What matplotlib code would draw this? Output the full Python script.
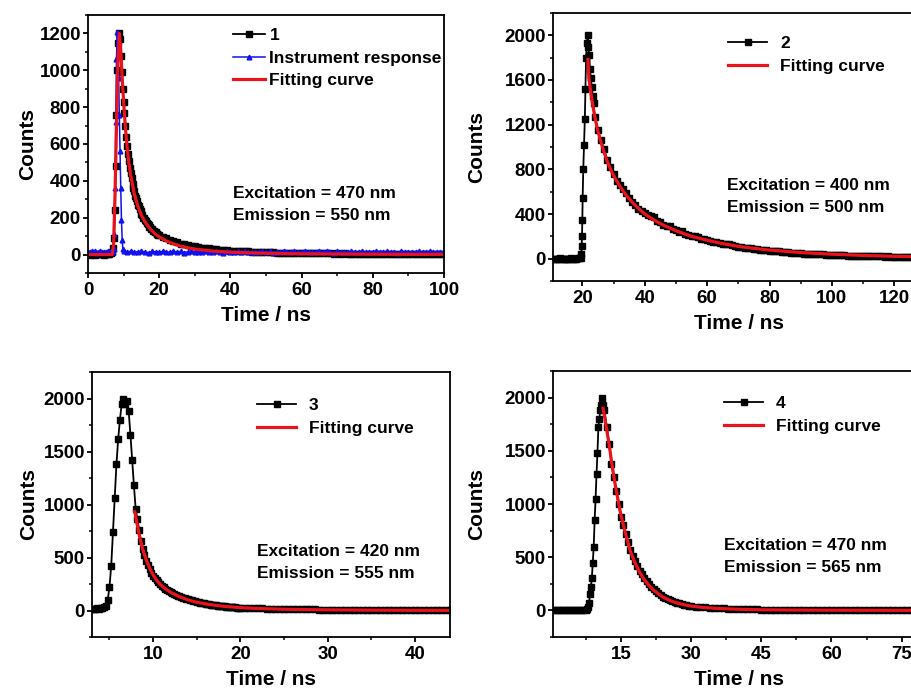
import numpy as np
import matplotlib
matplotlib.use("Agg")
import matplotlib.pyplot as plt
from matplotlib.ticker import MultipleLocator

# === 字體 / 樣式 ===
plt.rcParams['font.family'] = ['Liberation Sans', 'DejaVu Sans']
plt.rcParams['font.weight'] = 'bold'
plt.rcParams['axes.labelweight'] = 'bold'
plt.rcParams['axes.linewidth'] = 1.3

W, H = 911, 693

# === 1: decay + instrument response (Excitation 470 / Emission 550) ===
t1 = np.concatenate([np.arange(0, 6.6, 0.5), np.arange(6.75, 20.01, 0.25), np.arange(21, 101, 1)])
c1 = [2, 0, 3, 1, 0, 2, 4, 1, 3, 0, 2, 5, 3, 8,
      15, 35, 90, 240, 480, 760, 1000, 1150, 1205,
      1170, 1080, 990, 900, 830, 770, 700, 640, 590, 545, 510, 470, 440, 415, 385, 360,
      345, 320, 305, 290, 270, 262, 245, 238, 220, 215, 200, 198, 185, 180, 170, 168,
      158, 152, 148, 140, 138, 130, 128, 120, 122, 112, 110, 105, 104,
      96, 88, 79, 72, 66, 60, 55, 50, 47, 44,
      40, 38, 35, 33, 30, 29, 27, 25, 24, 22,
      21, 20, 18, 18, 17, 16, 15, 15, 14, 13,
      12, 12, 11, 11, 10, 10, 9, 10, 9, 8,
      8, 7, 8, 7, 6, 7, 6, 6, 5, 6,
      5, 6, 5, 4, 5, 5, 4, 5, 4, 4,
      4, 5, 3, 4, 4, 3, 4, 3, 3, 4,
      3, 3, 2, 3, 3, 2, 3, 2, 3, 2]
irf_t = np.concatenate([np.arange(0, 7.01, 0.5), np.arange(7.2, 9.81, 0.2), np.arange(10, 101, 1)])
irf_c = [16, 12, 18, 14, 17, 11, 15, 19, 13, 16, 14, 18, 12, 17, 15,
         30, 110, 360, 720, 1060, 1210, 1150, 960, 760, 560, 360, 190, 80, 30,
         22, 15, 18, 12, 16, 19, 14, 11, 17, 15,
         13, 18, 16, 12, 19, 14, 17, 11, 15, 18,
         14, 16, 12, 19, 15, 13, 17, 16, 11, 18,
         15, 12, 17, 14, 19, 13, 16, 15, 12, 18,
         14, 17, 11, 16, 15, 19, 13, 14, 17, 12,
         16, 18, 13, 15, 12, 17, 14, 19, 15, 11,
         17, 14, 16, 12, 18, 15, 13, 17, 14, 16,
         12, 19, 15, 14, 17, 13, 16, 11, 18, 15,
         14, 16, 13, 17, 12, 15, 18, 14, 16, 13, 15]
fit1_t = [0, 6.8, 7.2, 7.6, 8.0, 8.4, 8.8, 9.2, 9.6, 10, 10.5, 11, 11.5, 12, 13, 14, 15, 16, 17, 18,
          19, 20, 22, 24, 26, 28, 30, 35, 40, 45, 50, 60, 70, 80, 90, 100]
fit1_c = [0, 0, 60, 330, 700, 1050, 1200, 1110, 960, 830, 690, 580, 495, 430, 330, 262, 214, 178, 150, 128,
          110, 96, 74, 58, 46, 37, 30, 19, 13, 10, 7, 4, 3, 2, 1, 1]

# === 2 (Excitation 400 / Emission 500) ===
t2 = np.concatenate([np.arange(11, 19.01, 0.5),
                     [19.5, 19.7, 19.8, 19.9, 20.0, 20.1, 20.3, 20.55, 20.8, 21.0, 21.2, 21.45, 21.7,
                      21.95, 22.2, 22.45, 22.7, 23.0, 23.3, 23.6],
                     np.arange(24, 130.01, 1)])
c2 = [0, 1, 0, 0, 2, 0, 1, 0, 0, 1, 0, 2, 0, 1, 0, 3, 4,
      10, 40, 117, 207, 342, 540, 800, 1020, 1250, 1520, 1800, 1930, 2000,
      1900, 1820, 1700, 1620, 1540, 1460, 1390,
      1270, 1150, 1060, 980, 880, 820, 760, 700, 660, 620,
      590, 540, 505, 480, 445, 425, 410, 395, 380, 370,
      340, 325, 300, 295, 290, 270, 255, 240, 245, 225,
      215, 205, 200, 190, 175, 180, 165, 160, 150, 148,
      140, 135, 128, 130, 118, 112, 108, 105, 100, 95,
      92, 88, 86, 80, 82, 75, 72, 70, 66, 65,
      60, 58, 57, 52, 54, 50, 48, 46, 45, 42,
      44, 40, 38, 39, 36, 35, 34, 33, 31, 30,
      31, 28, 27, 28, 25, 26, 24, 23, 24, 22,
      21, 22, 20, 19, 20, 18, 17, 18, 16, 17,
      15, 16, 14, 15, 14, 13, 13]
fit2_t = [21.8, 22.1, 22.5, 23, 23.5, 24, 25, 26, 27, 28, 29, 30, 32, 34, 36, 38, 40, 43, 46, 50,
          55, 60, 65, 70, 75, 80, 90, 100, 110, 120, 130]
fit2_c = [1785, 1620, 1530, 1440, 1350, 1270, 1140, 1040, 950, 870, 805, 745, 650, 570, 505, 450, 400, 345, 300, 250,
          200, 165, 135, 110, 92, 77, 55, 40, 29, 21, 16]

# === 3 (Excitation 420 / Emission 555) ===
t3 = np.concatenate([np.arange(3.0, 8.01, 0.2), np.arange(8.2, 20.01, 0.2), np.arange(20.5, 44.01, 0.5)])
c3 = [15, 18, 14, 20, 17, 22, 25, 30,
      45, 100, 220, 420, 740, 1060, 1380, 1620, 1800, 1950, 2000, 1950, 1980, 1880, 1660, 1420, 1180, 960,
      860, 760, 660, 580, 520, 470, 430, 390, 355, 330,
      305, 290, 265, 250, 232, 220, 205, 195, 182, 175,
      165, 158, 150, 140, 135, 128, 120, 116, 108, 104,
      98, 95, 90, 86, 82, 78, 75, 70, 68, 64,
      62, 58, 56, 54, 50, 48, 46, 44, 42, 40,
      38, 37, 35, 33, 32, 30, 29, 28, 27, 26,
      25, 23, 22, 20, 19, 18, 17, 16, 15, 14,
      13, 13, 12, 11, 11, 10, 10, 9, 9, 8,
      8, 8, 7, 7, 7, 6, 6, 6, 5, 5,
      5, 5, 4, 5, 4, 4, 4, 3, 4, 3,
      3, 3, 3, 2, 3, 2, 2, 2]
fit3_t = [7.9, 8.2, 8.5, 8.8, 9.2, 9.6, 10, 10.5, 11, 11.5, 12, 13, 14, 15, 16, 17, 18, 20, 22, 25,
          28, 32, 36, 40, 44]
fit3_c = [930, 800, 680, 580, 480, 400, 335, 275, 232, 200, 172, 130, 100, 78, 62, 50, 40, 27, 19, 12,
          8, 5, 3, 2, 1]

# === 4 (Excitation 470 / Emission 565) ===
t4 = np.concatenate([np.arange(0.5, 7.51, 0.5), np.arange(7.8, 11.21, 0.2),
                     np.arange(11.5, 30.01, 0.5), np.arange(31, 80.01, 1)])
c4 = [0, 1, 0, 0, 2, 0, 1, 0, 0, 1, 0, 2, 1, 0, 3,
      10, 30, 70, 150, 220, 300, 450, 600, 850, 1050, 1280, 1480, 1720, 1800, 1880, 1930, 2000, 1930,
      1880, 1720, 1560, 1380, 1250, 1120, 1000, 880, 800, 720,
      640, 570, 510, 460, 420, 370, 340, 300, 275, 245,
      220, 200, 180, 160, 148, 130, 120, 105, 98, 88,
      80, 72, 66, 60, 55, 50, 46, 42,
      36, 32, 29, 26, 23, 21, 19, 17, 15, 14,
      13, 11, 10, 9, 8, 8, 7, 6, 6, 5,
      5, 4, 4, 4, 3, 3, 3, 3, 2, 2,
      2, 2, 2, 1, 2, 1, 1, 2, 1, 1,
      1, 1, 0, 1, 1, 0, 1, 0, 1, 0]
fit4_t = [11.2, 11.6, 12, 12.5, 13, 13.5, 14, 15, 16, 17, 18, 19, 20, 21, 22, 24, 26, 28, 30, 33,
          36, 40, 45, 50, 60, 70, 80]
fit4_c = [1900, 1800, 1690, 1560, 1400, 1260, 1130, 900, 720, 560, 450, 360, 290, 235, 190, 125, 84, 58, 40, 26,
          18, 11, 6, 4, 2, 1, 0]

RED = '#e8131b'
BLUE = '#1010f0'


def px_axes(fig, left, top, right, bottom):
    return fig.add_axes([left / W, 1 - bottom / H, (right - left) / W, (bottom - top) / H])


def style_axes(ax, xlim, ylim, xmaj, xmin, ymaj, ymin, ylabelpad):
    ax.set_xlim(*xlim)
    ax.set_ylim(*ylim)
    ax.xaxis.set_major_locator(MultipleLocator(xmaj))
    ax.xaxis.set_minor_locator(MultipleLocator(xmin))
    ax.yaxis.set_major_locator(MultipleLocator(ymaj))
    ax.yaxis.set_minor_locator(MultipleLocator(ymin))
    ax.tick_params(which='major', direction='out', length=3.6, width=1.3, labelsize=13.5)
    ax.tick_params(which='minor', direction='out', length=2.2, width=1.1)
    ax.tick_params(axis='x', which='major', pad=3)
    ax.tick_params(axis='y', which='major', pad=1.5)
    ax.set_xlabel('Time / ns', fontsize=15, labelpad=5)
    ax.set_ylabel('Counts', fontsize=15, labelpad=ylabelpad)


def add_legend(fig, ax, hx, ty, hlen, tpad):
    ax.legend(loc='upper left', bbox_to_anchor=(hx / W, 1 - ty / H), bbox_transform=fig.transFigure,
              frameon=False, fontsize=12.5, numpoints=1, handlelength=hlen, handletextpad=tpad,
              labelspacing=0.42, borderpad=0, borderaxespad=0)


def add_note(fig, x, y1, y2, ex, em):
    fig.text(x / W, 1 - y1 / H, f'Excitation = {ex} nm', fontsize=12.5, va='center')
    fig.text(x / W, 1 - y2 / H, f'Emission = {em} nm', fontsize=12.5, va='center')


fig = plt.figure(figsize=(W / 100, H / 100), dpi=100)

data_kw = dict(color='black', marker='s', markersize=3.7, linewidth=1.3)
fit_kw = dict(color=RED, linewidth=2.3)

# 1
ax1 = px_axes(fig, 88, 15, 444, 273)
ax1.plot(t1, c1, label='1', **data_kw)
ax1.plot(irf_t, irf_c, color=BLUE, marker='^', markersize=3.4, linewidth=1.1, label='Instrument response')
ax1.plot(fit1_t, fit1_c, label='Fitting curve', **fit_kw)
style_axes(ax1, (0, 100), (-100, 1300), 20, 10, 200, 100, 2)
add_legend(fig, ax1, 233, 28, 1.85, 0.25)
add_note(fig, 233, 194, 216, 470, 550)

# 2
ax2 = px_axes(fig, 553, 13, 553 + 119.4 * 3.12, 281)
ax2.plot(t2, c2, label='2', **data_kw)
ax2.plot(fit2_t, fit2_c, label='Fitting curve', **fit_kw)
style_axes(ax2, (10.6, 130), (-200, 2200), 20, 10, 400, 200, 13)
add_legend(fig, ax2, 728, 36, 2.25, 0.75)
add_note(fig, 727, 185, 207, 400, 500)

# 3
ax3 = px_axes(fig, 92, 372, 450, 637)
ax3.plot(t3, c3, label='3', **data_kw)
ax3.plot(fit3_t, fit3_c, label='Fitting curve', **fit_kw)
style_axes(ax3, (3, 44), (-250, 2250), 10, 5, 500, 250, 3.5)
add_legend(fig, ax3, 257, 398, 2.25, 0.75)
add_note(fig, 257, 552, 573, 420, 555)

# 4
ax4 = px_axes(fig, 553, 371, 925, 637)
ax4.plot(t4, c4, label='4', **data_kw)
ax4.plot(fit4_t, fit4_c, label='Fitting curve', **fit_kw)
style_axes(ax4, (0.5, 80), (-250, 2250), 15, 7.5, 500, 250, 13)
add_legend(fig, ax4, 724, 396, 2.25, 0.75)
add_note(fig, 724, 546, 568, 470, 565)

fig.savefig('out.png', dpi=100)
